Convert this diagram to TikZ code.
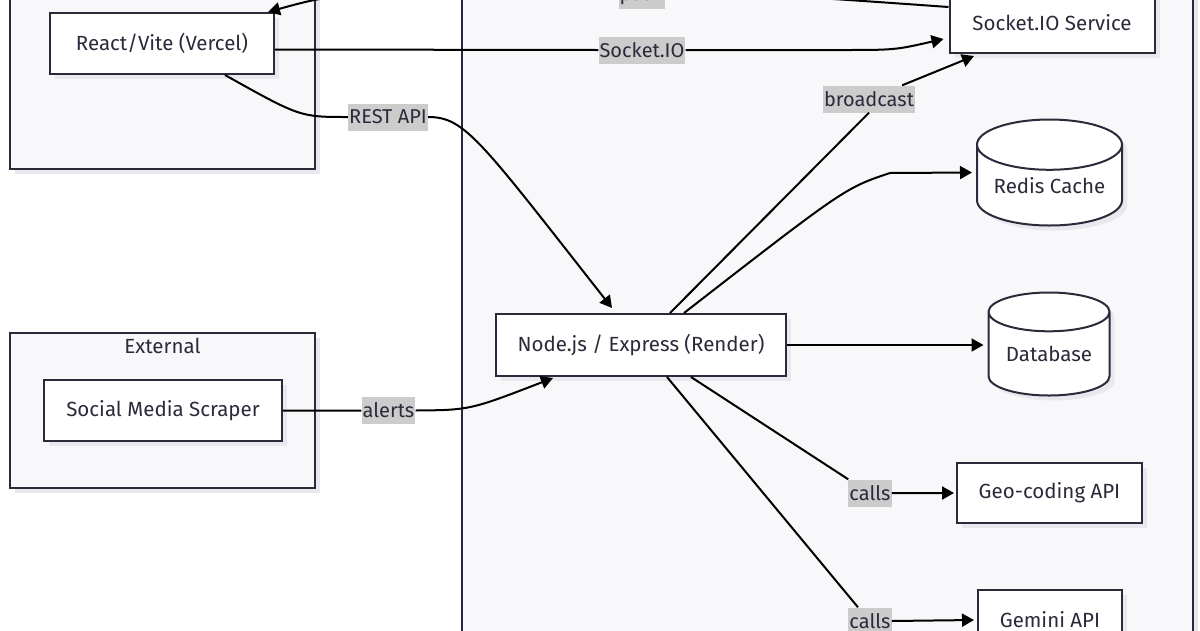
\documentclass[tikz,border=0pt]{standalone}
\usepackage{fontspec}
\setmainfont{Fira Sans}
\usetikzlibrary{arrows.meta,positioning,shapes.geometric,shadows}

\definecolor{inkcol}{RGB}{42,42,58}
\definecolor{groupfill}{RGB}{248,248,251}
\definecolor{shadecol}{RGB}{232,232,238}
\definecolor{tagfill}{RGB}{204,204,204}

\tikzset{
  boxshade/.style={drop shadow={shadow xshift=5pt, shadow yshift=-5pt, fill=shadecol, opacity=1}},
  group/.style={draw=inkcol, line width=2pt, fill=groupfill, boxshade},
  grouptitle/.style={text=inkcol, font=\fontsize{20.5}{24}\selectfont},
  svc/.style={draw=inkcol, line width=2pt, fill=white, text=inkcol, boxshade,
    font=\fontsize{20.5}{24}\selectfont, inner sep=0pt},
  store/.style={svc, cylinder, shape border rotate=90, aspect=0.45, anchor=shape center},
  tag/.style={fill=tagfill, text=inkcol, font=\fontsize{20}{24}\selectfont,
    inner xsep=1pt, inner ysep=0pt, minimum height=27pt},
  flow/.style={line width=2pt, -{Triangle[length=12pt,width=13pt]}},
}

\begin{document}
\begin{tikzpicture}[x=1pt, y=-1pt]
  \useasboundingbox (0,0) rectangle (1200,630);
  \clip (0,0) rectangle (1200,630);

  % subgraphs
  \node[group, minimum width=305pt, minimum height=240pt] (frontend) at (162.5,49) {};
  \node[group, minimum width=731pt, minimum height=800pt] (backend) at (827.5,320) {};
  \node[group, minimum width=305pt, minimum height=155pt] (external) at (162.5,410.5) {};
  \node[grouptitle, below=3pt of external.north] (exttitle) {External};

  % services
  \node[svc, minimum width=224pt, minimum height=61pt] (react) at (162,43.5) {React/Vite (Vercel)};
  \node[svc, minimum width=205pt, minimum height=60pt] (socket) at (1052,23) {Socket.IO Service};
  \node[store, minimum width=145pt, minimum height=106pt] (redis) at (1049.5,172.5) {Redis Cache};
  \node[svc, minimum width=290pt, minimum height=62pt] (express) at (641,345) {Node.js / Express (Render)};
  \node[store, minimum width=121pt, minimum height=103pt] (db) at (1049,344) {Database};
  \node[svc, minimum width=185pt, minimum height=60pt] (geo) at (1049.5,493) {Geo-coding API};
  \node[svc, minimum width=144pt, minimum height=60pt] (gemini) at (1050,620) {Gemini API};
  \node[svc, minimum width=238pt, minimum height=61pt] (scraper) at (163,410.5) {Social Media Scraper};

  % edge labels
  \node[tag] (pushtag) at (642,-5) {push};
  \node[tag] (socktag) at (642,50) {Socket.IO};
  \node[tag] (resttag) at (388,117) {REST API};
  \node[tag] (casttag) at (869,99) {broadcast};
  \node[tag] (alerttag) at (388.5,410.5) {alerts};
  \node[tag] (geotag) at (870,493) {calls};
  \node[tag] (gemtag) at (870,621) {calls};

  % edges
  \draw[flow] ([yshift=16pt]socket.west) .. controls (780,-5) .. (pushtag.east)
    (pushtag.west) .. controls (340,-8) .. ([xshift=-7pt]react.north east);
  \draw[flow] ([yshift=-6pt]react.east) -- (socktag.west)
    (socktag.east) -- (840,50) .. controls (895,50) .. ([xshift=-5pt,yshift=-16pt]socket.west);
  \draw[flow] ([xshift=63pt]react.south) .. controls (300,117) .. (resttag.west)
    (resttag.east) .. controls (465,117) and (480,140) .. ([xshift=-29pt,yshift=5pt]express.north);
  \draw[flow] ([xshift=29pt]express.north) -- (casttag.south)
    ([xshift=-13pt]casttag.north east) -- ([xshift=-78pt,yshift=-2pt]socket.south);
  \draw[flow] ([xshift=43pt]express.north) .. controls (845,188) .. (890,173)
    -- ([xshift=-4pt]redis.shape center -| redis.west);
  \draw[flow] (express.east) -- ([xshift=-4pt]express.east -| db.west);
  \draw[flow] ([xshift=50pt]express.south) -- (geotag.north west)
    (geotag.east) -- ([xshift=-2pt]geo.west);
  \draw[flow] ([xshift=26pt]express.south) -- ([xshift=-12pt]gemtag.north)
    (gemtag.east) -- ([xshift=-3pt]gemini.west);
  \draw[flow] (scraper.east) -- (alerttag.west)
    (alerttag.east) .. controls (470,410) .. ([xshift=-88pt,yshift=-1pt]express.south);
\end{tikzpicture}
\end{document}
